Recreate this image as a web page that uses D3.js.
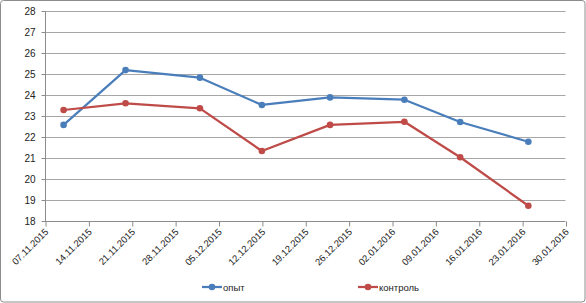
<!DOCTYPE html>
<html><head><meta charset="utf-8">
<script src="https://cdn.jsdelivr.net/npm/d3@7"></script>
<style>body{margin:0;background:#fff}svg{display:block}</style>
</head><body>
<script>
const dates = ["10.11.2015","20.11.2015","02.12.2015","12.12.2015","23.12.2015","04.01.2016","13.01.2016","24.01.2016"];
const opyt = [22.59, 25.2, 24.84, 23.54, 23.9, 23.79, 22.73, 21.79];
const kontrol = [23.3, 23.62, 23.38, 21.35, 22.59, 22.74, 21.05, 18.74];
const seriesNames = ["опыт", "контроль"];
const xTickLabels = ["07.11.2015","14.11.2015","21.11.2015","28.11.2015","05.12.2015","12.12.2015","19.12.2015","26.12.2015","02.01.2016","09.01.2016","16.01.2016","23.01.2016","30.01.2016"];
const yTicks = [18,19,20,21,22,23,24,25,26,27,28];

const W = 586, H = 303;
const parse = d3.timeParse("%d.%m.%Y");
const svg = d3.select("body").append("svg").attr("width", W).attr("height", H);
svg.append("rect").attr("x",0.5).attr("y",0.5).attr("width",W-1.5).attr("height",H-1.5)
  .attr("rx",3).attr("fill","#fff").attr("stroke","#8c8c8c").attr("stroke-width",1);

const x = d3.scaleTime().domain([parse(xTickLabels[0]), parse(xTickLabels[xTickLabels.length-1])]).range([45, 565.5]);
const y = d3.scaleLinear().domain([18, 28]).range([221.3, 11.3]);

const font = "'Liberation Sans', Arial, sans-serif";
svg.append("g").selectAll("line").data(yTicks.filter(t=>t>18)).join("line")
  .attr("x1",45).attr("x2",565.5).attr("y1",d=>Math.round(y(d))+0.5).attr("y2",d=>Math.round(y(d))+0.5)
  .attr("stroke","#a6a6a6").attr("stroke-width",1);

const yAxis = svg.append("g").attr("transform","translate(45.5,0.5)")
  .call(d3.axisLeft(y).tickValues(yTicks).tickSize(4).tickPadding(6).tickFormat(d3.format("d")));
yAxis.select(".domain").attr("stroke","#8c8c8c").attr("d","M0,"+Math.round(y(28))+"V"+Math.round(y(18)));
yAxis.selectAll(".tick line").attr("stroke","#8c8c8c");
yAxis.selectAll("text").attr("font-family",font).attr("font-size","10px").attr("fill","#222");
yAxis.selectAll(".tick").attr("transform",d=>`translate(0,${Math.round(y(d))})`);

const xAxis = svg.append("g").attr("transform",`translate(0.5,${Math.round(y(18))+0.5})`)
  .call(d3.axisBottom(x).tickValues(xTickLabels.map(parse)).tickSize(5).tickFormat(d3.timeFormat("%d.%m.%Y")));
xAxis.select(".domain").attr("stroke","#8c8c8c").attr("d","M44.5,0H565");
xAxis.selectAll(".tick line").attr("stroke","#8c8c8c");
xAxis.selectAll("text").attr("font-family",font).attr("font-size","9.5px").attr("fill","#222")
  .attr("text-anchor","end").attr("dy",0).attr("y",0).attr("x",0)
  .attr("transform","translate(3,11) rotate(-45)");

const colors = ["#4a7ebb", "#be4b48"];
const seriesData = [opyt, kontrol];
const line = d3.line().x((d,i)=>x(parse(dates[i]))).y(d=>y(d));
seriesData.forEach((vals, s) => {
  svg.append("path").datum(vals).attr("d", line).attr("fill","none")
    .attr("stroke", colors[s]).attr("stroke-width", 2.25).attr("stroke-linejoin","round");
  svg.append("g").selectAll("circle").data(vals).join("circle")
    .attr("cx",(d,i)=>x(parse(dates[i]))).attr("cy",d=>y(d)).attr("r",3.3).attr("fill",colors[s]);
});

const legX = [202, 358];
seriesNames.forEach((n, s) => {
  const g = svg.append("g").attr("transform",`translate(${legX[s]},287)`);
  g.append("line").attr("x1",0).attr("x2",20).attr("y1",0).attr("y2",0).attr("stroke",colors[s]).attr("stroke-width",2.25);
  g.append("circle").attr("cx",10).attr("cy",0).attr("r",3.3).attr("fill",colors[s]);
  g.append("text").attr("x",21).attr("y",3.5).attr("font-family",font).attr("font-size","9.5px").attr("fill","#222").text(n);
});
</script>
</body></html>
